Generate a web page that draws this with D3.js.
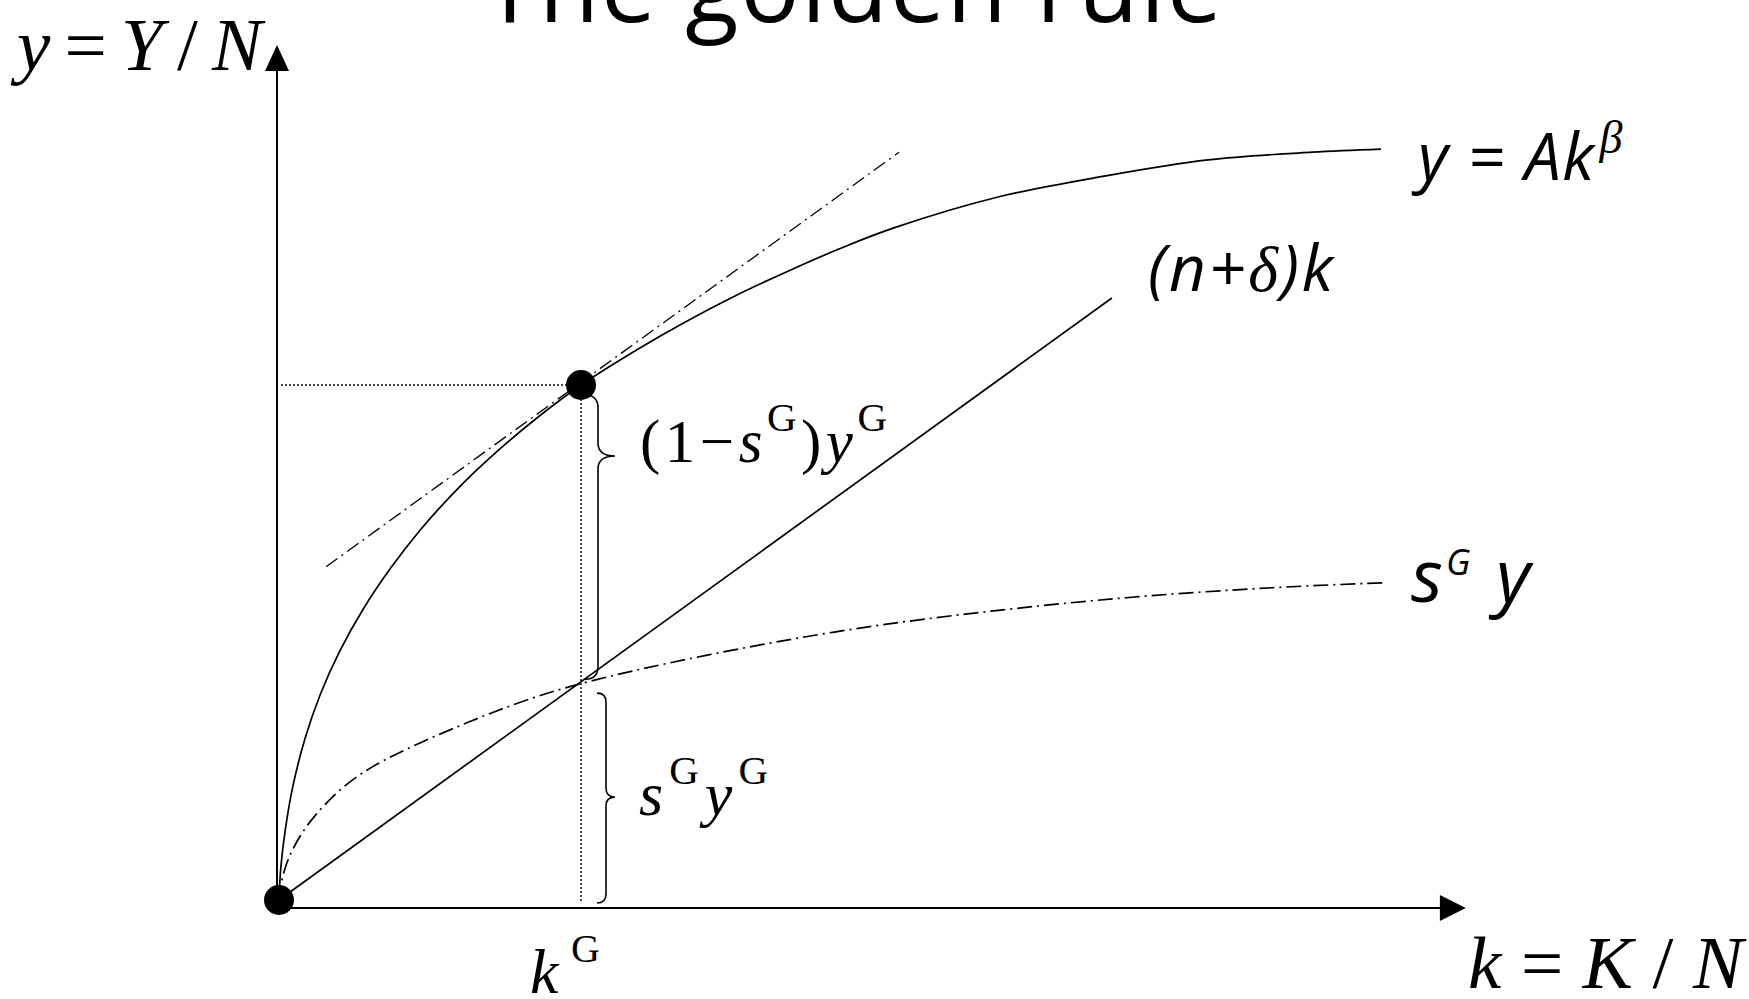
<!DOCTYPE html>
<html>
<head>
<meta charset="utf-8">
<script src="https://cdn.jsdelivr.net/npm/d3@7"></script>
<style>
  body { margin: 0; background: #fff; }
  svg { display: block; }
  .serif { font-family: "Liberation Serif", "Times New Roman", serif; }
  .sans { font-family: "Open Sans", "Noto Sans", sans-serif; }
</style>
</head>
<body>
<svg width="1749" height="999"></svg>
<script>
// values, in units where kG = 1 and yG = 1
var kProd = [0, 0.006, 0.02, 0.046, 0.086, 0.136, 0.202, 0.278, 0.368, 0.467, 0.589, 0.722, 0.854, 1, 1.195, 1.344, 1.51, 1.689, 1.858, 2.036, 2.381, 2.728, 3.076, 3.421, 3.649];
var yProd = [0, 0.063, 0.133, 0.221, 0.313, 0.398, 0.484, 0.564, 0.643, 0.718, 0.797, 0.871, 0.936, 1, 1.072, 1.122, 1.173, 1.222, 1.265, 1.305, 1.365, 1.405, 1.437, 1.452, 1.458];

var kSave = [0, 0.013, 0.079, 0.192, 0.301, 0.467, 0.632, 0.798, 1, 1.401, 1.881, 2.358, 2.834, 3.311, 3.656];
var ySave = [0, 0.062, 0.14, 0.212, 0.259, 0.306, 0.347, 0.385, 0.423, 0.475, 0.527, 0.562, 0.59, 0.608, 0.616];

var kLine = [0, 2.758],   yLine = [0, 1.169];     // (n+delta)k
var kTan = [0.156, 2.053], yTan = [0.647, 1.452]; // tangent at the golden point

var kG = 1, yG = 1, syG = 0.423;
var kAxisMax = 3.93, yAxisMax = 1.66;

var svg = d3.select("svg");

var x = d3.scaleLinear().domain([0, 1]).range([279, 581]);
var y = d3.scaleLinear().domain([0, 1]).range([900, 385]);

var line = d3.line()
    .x(function(d) { return x(d[0]); })
    .y(function(d) { return y(d[1]); });

var prod = d3.zip(kProd, yProd),
    save = d3.zip(kSave, ySave);

// title, mostly cut off at the top
svg.append("text")
    .attr("class", "sans")
    .attr("x", 483).attr("y", 22)
    .attr("font-size", 98)
    .attr("textLength", 739).attr("lengthAdjust", "spacing")
    .text("The golden rule");

// axes
var ox = x(0) - 2, oy = y(0) + 8;
svg.append("line")
    .attr("x1", ox).attr("y1", oy)
    .attr("x2", x(kAxisMax) - 24).attr("y2", oy)
    .attr("stroke", "#000").attr("stroke-width", 2);
svg.append("path")
    .attr("d", "M" + x(kAxisMax) + "," + oy + "L" + (x(kAxisMax) - 26) + "," + (oy - 13) + "L" + (x(kAxisMax) - 26) + "," + (oy + 13) + "Z")
    .attr("fill", "#000");
svg.append("line")
    .attr("x1", ox).attr("y1", oy)
    .attr("x2", ox).attr("y2", y(yAxisMax) + 24)
    .attr("stroke", "#000").attr("stroke-width", 2);
svg.append("path")
    .attr("d", "M" + ox + "," + y(yAxisMax) + "L" + (ox - 12) + "," + (y(yAxisMax) + 26) + "L" + (ox + 12) + "," + (y(yAxisMax) + 26) + "Z")
    .attr("fill", "#000");

// dotted guides to the golden point
svg.append("line")
    .attr("x1", ox + 4).attr("y1", y(yG))
    .attr("x2", x(kG) - 14).attr("y2", y(yG))
    .attr("stroke", "#000").attr("stroke-width", 1.4)
    .attr("stroke-dasharray", "2,2");
svg.append("line")
    .attr("x1", x(kG)).attr("y1", y(yG) + 14)
    .attr("x2", x(kG)).attr("y2", oy - 5)
    .attr("stroke", "#000").attr("stroke-width", 1.4)
    .attr("stroke-dasharray", "2,2");

// tangent
svg.append("path")
    .attr("d", line(d3.zip(kTan, yTan)))
    .attr("fill", "none").attr("stroke", "#000").attr("stroke-width", 1.3)
    .attr("stroke-dasharray", "14,5,2,5");

// savings curve
svg.append("path")
    .attr("d", line.curve(d3.curveBasis)(save))
    .attr("fill", "none").attr("stroke", "#000").attr("stroke-width", 1.7)
    .attr("stroke-dasharray", "15,5,2,5");

// production curve
svg.append("path")
    .attr("d", line.curve(d3.curveCatmullRom.alpha(0.5))(prod))
    .attr("fill", "none").attr("stroke", "#000").attr("stroke-width", 1.7);

// (n+delta)k
svg.append("path")
    .attr("d", line.curve(d3.curveLinear)(d3.zip(kLine, yLine)))
    .attr("fill", "none").attr("stroke", "#000").attr("stroke-width", 1.7);

// points
svg.selectAll("circle")
    .data([[0, 0], [kG, yG]])
    .enter().append("circle")
    .attr("cx", function(d) { return x(d[0]); })
    .attr("cy", function(d) { return y(d[1]); })
    .attr("r", 15)
    .attr("fill", "#000");

// braces
function brace(bx, y0, yTip, y1, w, c) {
    var p = d3.path();
    p.moveTo(bx - c, y0);
    p.quadraticCurveTo(bx, y0, bx, y0 + c);
    p.lineTo(bx, yTip - c);
    p.quadraticCurveTo(bx, yTip, bx + w, yTip);
    p.quadraticCurveTo(bx, yTip, bx, yTip + c);
    p.lineTo(bx, y1 - c);
    p.quadraticCurveTo(bx, y1, bx - c, y1);
    return p.toString();
}
svg.append("path")
    .attr("d", brace(x(kG) + 17, y(yG) + 10, y(yG) + 71, y(syG) - 3, 17, 13))
    .attr("fill", "none").attr("stroke", "#000").attr("stroke-width", 1.6);
svg.append("path")
    .attr("d", brace(x(kG) + 25, y(syG) + 11, (y(syG) + oy) / 2 + 2, oy - 5, 9, 9))
    .attr("fill", "none").attr("stroke", "#000").attr("stroke-width", 1.6);

// math labels (serif)
function mathLabel(px, py, size, width, parts) {
    var t = svg.append("text")
        .attr("class", "serif")
        .attr("x", px).attr("y", py)
        .attr("font-size", size)
        .attr("textLength", width).attr("lengthAdjust", "spacing");
    parts.forEach(function(p) {
        t.append("tspan")
            .attr("font-style", p.i ? "italic" : "normal")
            .attr("font-size", p.s || size)
            .attr("dy", p.dy || 0)
            .text(p.t);
    });
    return t;
}

mathLabel(17, 70, 75, 245, [
    {t: "y", i: 1}, {t: "="}, {t: "Y", i: 1}, {t: "/"}, {t: "N", i: 1}
]);
mathLabel(1468, 988, 75, 275, [
    {t: "k", i: 1}, {t: "="}, {t: "K", i: 1}, {t: "/"}, {t: "N", i: 1}
]);
mathLabel(530, 993, 64, 70, [
    {t: "k", i: 1}, {t: "G", s: 40, dy: -31}
]);
mathLabel(640, 462, 61, 247, [
    {t: "("}, {t: "1"}, {t: "\u2212"}, {t: "s", i: 1},
    {t: "G", s: 41, dy: -31}, {t: ")", dy: 31}, {t: "y", i: 1},
    {t: "G", s: 41, dy: -31}
]);
mathLabel(639, 815, 62, 129, [
    {t: "s", i: 1}, {t: "G", s: 41, dy: -31},
    {t: "y", i: 1, dy: 31}, {t: "G", s: 41, dy: -31}
]);

// curve labels (sans italic)
var lab1 = svg.append("text")
    .attr("class", "sans").attr("font-style", "italic")
    .attr("x", 1418).attr("y", 180).attr("font-size", 65);
lab1.append("tspan").attr("textLength", 176).attr("lengthAdjust", "spacing").text("y = Ak");
lab1.append("tspan").attr("class", "serif").attr("font-size", 46).attr("dx", 4).attr("dy", -27).text("\u03B2");

var lab2 = svg.append("text")
    .attr("class", "sans").attr("font-style", "italic")
    .attr("x", 1148).attr("y", 291).attr("font-size", 64)
    .attr("textLength", 185).attr("lengthAdjust", "spacing");
lab2.append("tspan").text("(n+");
lab2.append("tspan").attr("class", "serif").text("\u03B4");
lab2.append("tspan").text(")k");

var lab3 = svg.append("text")
    .attr("class", "sans").attr("font-style", "italic")
    .attr("x", 1411).attr("y", 602).attr("font-size", 74)
    .attr("textLength", 119).attr("lengthAdjust", "spacing");
lab3.append("tspan").text("s");
lab3.append("tspan").attr("font-size", 36).attr("dy", -27).text("G");
lab3.append("tspan").attr("dy", 27).text(" y");
</script>
</body>
</html>
